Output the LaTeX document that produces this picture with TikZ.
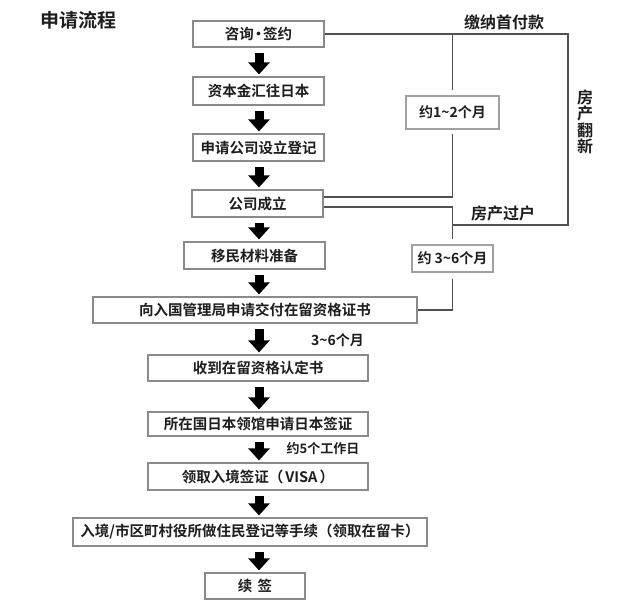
\documentclass[tikz,border=0pt]{standalone}
\usepackage{fontspec}
\setmainfont{Noto Sans CJK SC}[BoldFont={Noto Sans CJK SC Bold}]
\usetikzlibrary{arrows.meta}
\definecolor{boxgray}{HTML}{8A8A8A}
\definecolor{linegray}{HTML}{505050}
\definecolor{txt}{HTML}{1E1E1E}
\tikzset{
  stepbox/.style={draw=boxgray, line width=1.2pt, fill=white, inner sep=0pt,
    text=txt, font=\bfseries\fontsize{14.5}{16}\selectfont},
  durbox/.style={draw=boxgray!80, line width=1.1pt, fill=white, inner sep=0pt,
    text=txt, font=\bfseries\fontsize{14}{16}\selectfont},
  lbl/.style={inner sep=0pt, text=txt, font=\bfseries\fontsize{16}{17}\selectfont},
  conn/.style={draw=linegray, line width=1.5pt},
  bigarrow/.style={draw=black, line width=9pt, line cap=butt,
    -{Triangle[width=21pt,length=12pt]}, shorten <=5pt, shorten >=2pt}
}
\begin{document}
\begin{tikzpicture}[x=1pt,y=-1pt]
\useasboundingbox[fill=white] (0,0) rectangle (643,609);
% title
\node[lbl, font=\bfseries\fontsize{19}{20}\selectfont] (title) at (78.5,20) {申请流程};
% main steps
\node[stepbox, minimum width=131pt, minimum height=26pt] (b1) at (258.5,34) {咨询\hspace{-0.18em}·\hspace{-0.18em}签约};
\node[stepbox, minimum width=131pt, minimum height=28pt] (b2) at (258.5,91) {资本金汇往日本};
\node[stepbox, minimum width=131pt, minimum height=27pt] (b3) at (258.5,147.5) {申请公司设立登记};
\node[stepbox, minimum width=131pt, minimum height=27pt] (b4) at (257.5,203.5) {公司成立};
\node[stepbox, minimum width=141pt, minimum height=27pt] (b5) at (254.5,255.5) {移民材料准备};
\node[stepbox, minimum width=324pt, minimum height=26pt] (b6) at (255,310) {向入国管理局申请交付在留资格证书};
\node[stepbox, minimum width=220pt, minimum height=26pt] (b7) at (258,368) {收到在留资格认定书};
\node[stepbox, minimum width=220pt, minimum height=24pt] (b8) at (258,424) {所在国日本领馆申请日本签证};
\node[stepbox, minimum width=220pt, minimum height=27pt] (b9) at (258,476.5) {领取入境签证（\hspace{0.15em}VISA\hspace{0.15em}）};
\node[stepbox, minimum width=354pt, minimum height=28pt] (b10) at (250,532) {入境/市区町村役所做住民登记等手续（领取在留卡）};
\node[stepbox, minimum width=100pt, minimum height=26pt] (b11) at (255,586) {续\hspace{0.35em}签};
% arrows
\coordinate (ax) at (259,0);
\draw[bigarrow] (b1.south -| ax) -- (b2.north -| ax);
\draw[bigarrow] (b2.south -| ax) -- (b3.north -| ax);
\draw[bigarrow] (b3.south -| ax) -- (b4.north -| ax);
\draw[bigarrow] (b4.south -| ax) -- (b5.north -| ax);
\draw[bigarrow] (b5.south -| ax) -- (b6.north -| ax);
\draw[bigarrow] (b6.south -| ax) -- (b7.north -| ax);
\draw[bigarrow] (b7.south -| ax) -- (b8.north -| ax);
\draw[bigarrow] (b8.south -| ax) -- (b9.north -| ax);
\draw[bigarrow] (b9.south -| ax) -- (b10.north -| ax);
\draw[bigarrow] (b10.south -| ax) -- (b11.north -| ax);
% side durations
\node[lbl, font=\bfseries\fontsize{14}{16}\selectfont] (t36) at (337.5,340) {3\textasciitilde 6个月};
\node[lbl, font=\bfseries\fontsize{13}{15}\selectfont] (t5) at (323,449) {约5个工作日};
% right-hand part
\node[durbox, minimum width=93pt, minimum height=33pt] (d1) at (452.5,112.5) {约1\textasciitilde 2个月};
\node[durbox, minimum width=81pt, minimum height=27pt] (d2) at (452.5,258.5) {约 3\textasciitilde 6个月};
\coordinate (tr) at (568,34);
\coordinate (br) at (568,225);
\draw[conn] (b1.east) -- (tr) -- (br) -- (br -| d2.north);
\draw[conn] (b1.east -| d1.north) -- ([yshift=5pt]d1.north);
\draw[conn] ([yshift=6.5pt]b4.east) -| ([yshift=-4pt]d1.south);
\draw[conn] ([yshift=-3.5pt]b4.east) -| ([yshift=5pt]d2.north);
\draw[conn] ([yshift=-6pt]d2.south) |- (b6.east);
\node[lbl] (pay) at (504,22) {缴纳首付款};
\node[lbl] (transfer) at (503,213) {房产过户};
\node[lbl, align=center, font=\bfseries\fontsize{16}{16.5}\selectfont] (reno) at (585,122) {房\\产\\翻\\新};
\end{tikzpicture}
\end{document}
